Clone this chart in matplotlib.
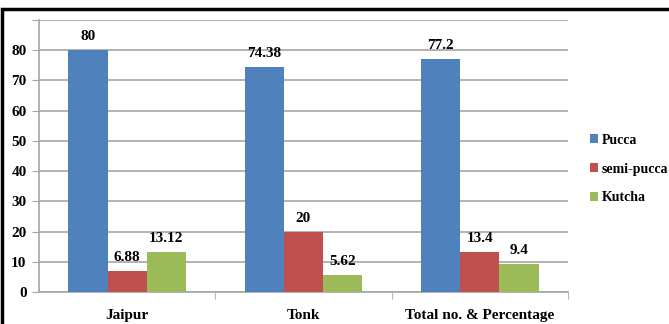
import matplotlib.pyplot as plt
import matplotlib.patches as mpatches
import numpy as np

categories = ['Jaipur', 'Tonk', 'Total no. & Percentage']
series = ['Pucca', 'semi-pucca', 'Kutcha']
pucca = [80, 74.38, 77.2]
semi_pucca = [6.88, 20, 13.4]
kutcha = [13.12, 5.62, 9.4]
labels = [['80', '74.38', '77.2'], ['6.88', '20', '13.4'], ['13.12', '5.62', '9.4']]
colors = ['#4F81BD', '#C0504D', '#9BBB59']

plt.rcParams['font.family'] = 'Liberation Serif'
plt.rcParams['font.weight'] = 'bold'

fig = plt.figure(figsize=(6.69, 3.24), dpi=100)
ax = fig.add_axes([39 / 669, 32 / 324, 529 / 669, 272 / 324])

x = np.arange(len(categories))
w = 0.222
handles = []
for i, vals in enumerate([pucca, semi_pucca, kutcha]):
    bars = ax.bar(x + (i - 1) * w, vals, w, color=colors[i], zorder=3)
    handles.append(bars)
    for b, lab in zip(bars, labels[i]):
        ax.annotate(lab, (b.get_x() + b.get_width() / 2, b.get_height()),
                    xytext=(0, 5), textcoords='offset points',
                    ha='center', va='bottom', fontsize=11, fontweight='bold')

ax.set_xlim(-0.5, 2.5)
ax.set_ylim(0, 90)
ax.set_yticks(range(0, 100, 10))
ax.set_yticklabels([str(v) for v in range(0, 90, 10)] + [''])
ax.yaxis.grid(True, color='#A6A6A6', lw=1.2, zorder=0)
ax.set_xticks(x)
ax.set_xticklabels(categories, fontsize=11, fontweight='bold')
ax.tick_params(axis='x', length=0, pad=12)
ax.set_xticks([0.5, 1.5, 2.5], minor=True)
ax.tick_params(axis='x', which='minor', length=5, color='#A6A6A6')
ax.tick_params(axis='y', length=5, color='#A6A6A6', labelsize=11, pad=4)
for s in ['top', 'right']:
    ax.spines[s].set_visible(False)
for s in ['left', 'bottom']:
    ax.spines[s].set_color('#A6A6A6')
    ax.spines[s].set_linewidth(1.2)

fig.legend(handles, series, loc='center left', bbox_to_anchor=(583 / 669, 1 - 169 / 324),
           frameon=False, fontsize=10, handlelength=0.6, handleheight=0.6,
           handletextpad=0.25, labelspacing=1.15, borderpad=0)

border = mpatches.Rectangle((1.5 / 669, -0.2), 1.2, 1 - 8.5 / 324 + 0.2,
                            transform=fig.transFigure, fill=False,
                            edgecolor='black', lw=2.5, clip_on=False)
fig.patches.append(border)

fig.savefig('out.png', dpi=100)
